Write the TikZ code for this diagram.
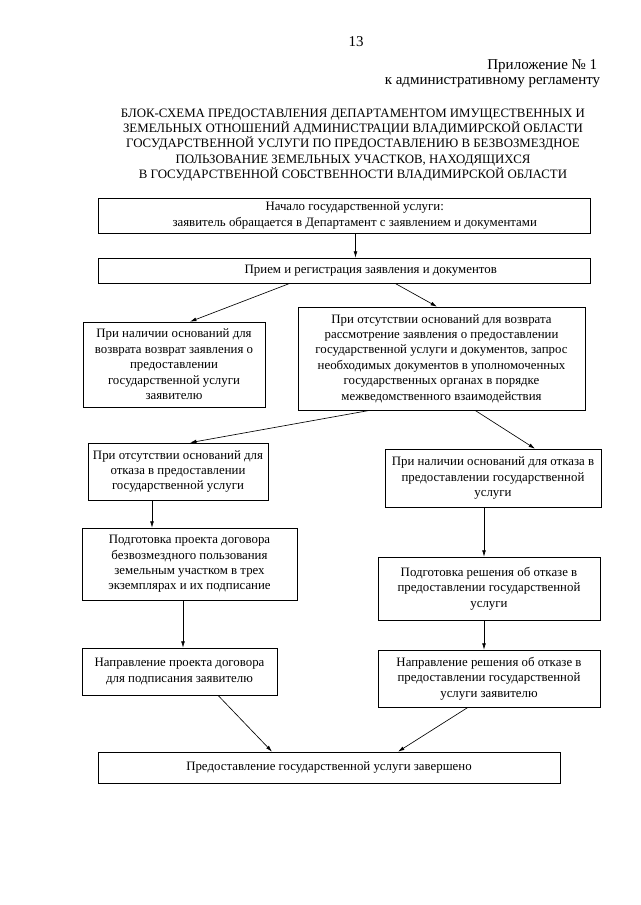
\documentclass[tikz,border=0pt]{standalone}
\usepackage{fontspec}
\setmainfont{Liberation Serif}
\usetikzlibrary{calc,arrows.meta}
\newcommand{\pxl}{0.0328125cm}

\begin{document}
\begin{tikzpicture}[x=\pxl,y=-\pxl,
  blk/.style={draw,line width=0.6pt,align=center,inner sep=1pt,font=\fontsize{12}{14.4}\selectfont},
  arr/.style={-{Latex[length=6pt,width=3.6pt]},line width=0.6pt}]
\useasboundingbox (0,0) rectangle (640,905);
\node (num) at (356,42) {\fontsize{14}{16}\selectfont 13};
\node[anchor=east] (app) at (601,66) {\fontsize{14}{16}\selectfont Приложение № 1};
\node[anchor=east] (reglam) at (604,83) {\fontsize{14}{16}\selectfont к административному регламенту};
\node[align=center,font=\fontsize{12}{14.2}\selectfont] (title) at (353,145) {БЛОК-СХЕМА ПРЕДОСТАВЛЕНИЯ ДЕПАРТАМЕНТОМ ИМУЩЕСТВЕННЫХ И\\
ЗЕМЕЛЬНЫХ ОТНОШЕНИЙ АДМИНИСТРАЦИИ ВЛАДИМИРСКОЙ ОБЛАСТИ\\
ГОСУДАРСТВЕННОЙ УСЛУГИ ПО ПРЕДОСТАВЛЕНИЮ В БЕЗВОЗМЕЗДНОЕ\\
ПОЛЬЗОВАНИЕ ЗЕМЕЛЬНЫХ УЧАСТКОВ, НАХОДЯЩИХСЯ\\
В ГОСУДАРСТВЕННОЙ СОБСТВЕННОСТИ ВЛАДИМИРСКОЙ ОБЛАСТИ};

\node[blk,minimum width=492*\pxl,minimum height=35*\pxl] (start) at (344,215.5) {\hspace*{20pt}Начало государственной услуги:\\
\hspace*{20pt}заявитель обращается в Департамент с заявлением и документами};
\node[blk,minimum width=492*\pxl,minimum height=25*\pxl] (reg) at (344,270.5) {\hspace*{50pt}Прием и регистрация заявления и документов};
\node[blk,minimum width=182*\pxl,minimum height=85*\pxl] (ret) at (174,364.5) {При наличии оснований для\\
возврата возврат заявления о\\
предоставлении\\
государственной услуги\\
заявителю};
\node[blk,minimum width=287*\pxl,minimum height=103*\pxl] (exam) at (441.5,358.5) {При отсутствии оснований для возврата\\
рассмотрение заявления о предоставлении\\
государственной услуги и документов, запрос\\
необходимых документов в уполномоченных\\
государственных органах в порядке\\
межведомственного взаимодействия};
\node[blk,minimum width=180*\pxl,minimum height=57*\pxl] (norefuse) at (178,471.5) {При отсутствии оснований для\\
отказа в предоставлении\\
государственной услуги};
\node[blk,minimum width=216*\pxl,minimum height=58*\pxl] (refuse) at (493,478) {При наличии оснований для отказа в\\
предоставлении государственной\\
услуги};
\node[blk,minimum width=215*\pxl,minimum height=72*\pxl] (draft) at (189.5,564) {Подготовка проекта договора\\
безвозмездного пользования\\
земельным участком в трех\\
экземплярах и их подписание};
\node[blk,minimum width=222*\pxl,minimum height=63*\pxl] (decision) at (489,588.5) {Подготовка решения об отказе в\\
предоставлении государственной\\
услуги};
\node[blk,minimum width=195*\pxl,minimum height=47*\pxl] (senddraft) at (179.5,671.5) {Направление проекта договора\\
для подписания заявителю};
\node[blk,minimum width=222*\pxl,minimum height=57*\pxl] (senddec) at (489,678.5) {Направление решения об отказе в\\
предоставлении государственной\\
услуги заявителю};
\node[blk,minimum width=462*\pxl,minimum height=31*\pxl] (done) at (329,767.5) {Предоставление государственной услуги завершено};

\draw[arr] ($(start.south)+(11.5,0)$) coordinate (s1) -- (s1 |- reg.north);
\draw[arr] ($(reg.south)+(-54,0)$) -- ($(ret.north)+(16,0)$);
\draw[arr] ($(reg.south)+(51,0)$) -- ($(exam.north)+(-4.5,0)$);
\draw[arr] ($(exam.south)+(-71.5,0)$) -- ($(norefuse.north)+(12,0)$);
\draw[arr] ($(exam.south)+(33.5,0)$) -- ($(refuse.north)+(42,0)$);
\draw[arr] ($(norefuse.south)+(-26,0)$) coordinate (s2) -- (s2 |- draft.north);
\draw[arr] ($(refuse.south)+(-9,0)$) coordinate (s3) -- (s3 |- decision.north);
\draw[arr] ($(draft.south)+(-6.5,0)$) coordinate (s4) -- (s4 |- senddraft.north);
\draw[arr] ($(decision.south)+(-5,0)$) coordinate (s5) -- (s5 |- senddec.north);
\draw[arr] ($(senddraft.south)+(38.5,0)$) -- ($(done.north)+(-57,0)$);
\draw[arr] ($(senddec.south)+(-21,0)$) -- ($(done.north)+(69,0)$);
\end{tikzpicture}
\end{document}
